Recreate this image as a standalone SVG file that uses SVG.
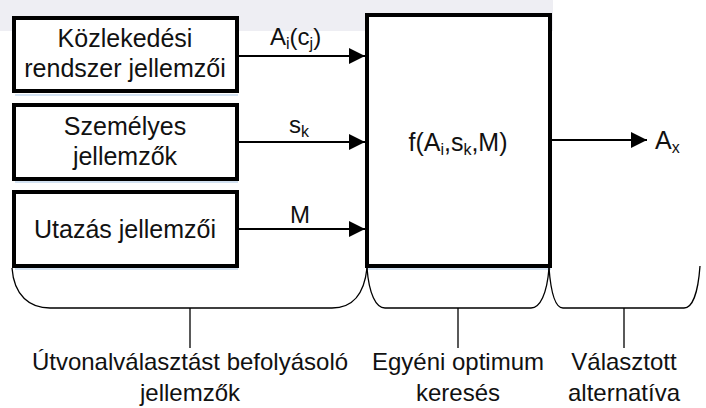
<svg xmlns="http://www.w3.org/2000/svg" width="706" height="408" viewBox="0 0 706 408">
  <defs>
    <marker id="arr" viewBox="0 0 10 10" refX="10" refY="5" markerWidth="17" markerHeight="16" markerUnits="userSpaceOnUse" orient="auto">
      <path d="M0,0 L10,5 L0,10 Z" fill="#000"/>
    </marker>
  </defs>
  <style>
    .box { fill: #fff; stroke: #000; stroke-width: 4; }
    .shadow { fill: none; stroke: #d3e2f2; stroke-width: 2; }
    .t { font-family: "Liberation Sans", Arial, sans-serif; font-size: 25px; fill: #111; text-anchor: middle; }
    .cap { font-size: 24px; }
    .lbl { font-family: "Liberation Sans", Arial, sans-serif; font-size: 24px; fill: #111; }
    .sub { font-size: 16px; }
    .con { stroke: #000; stroke-width: 2; fill: none; }
    .brace { stroke: #000; stroke-width: 1.3; fill: none; }
  </style>
  <rect x="0" y="0" width="553" height="31" fill="#eeeef3"/>

  <g id="n1">
    <path class="shadow" d="M15,95 H238"/>
    <rect class="box" x="14" y="18" width="223" height="73"/>
    <text class="t" x="125" y="47">Közlekedési</text>
    <text class="t" x="125" y="77">rendszer jellemzői</text>
  </g>
  <g id="n2">
    <path class="shadow" d="M15,182 H238"/>
    <rect class="box" x="14" y="105" width="223" height="74"/>
    <text class="t" x="125" y="135">Személyes</text>
    <text class="t" x="125" y="165">jellemzők</text>
  </g>
  <g id="n3">
    <path class="shadow" d="M15,269 H238"/>
    <rect class="box" x="14" y="192" width="223" height="74"/>
    <text class="t" x="125" y="238">Utazás jellemzői</text>
  </g>
  <g id="n4">
    <path class="shadow" d="M369,19.5 H548"/>
    <path class="shadow" d="M368,269 H551"/>
    <rect class="box" x="367" y="15" width="183" height="251"/>
    <text class="t" x="458" y="151">f(A<tspan class="sub" dy="4">i</tspan><tspan dy="-4">,s</tspan><tspan class="sub" dy="4">k</tspan><tspan dy="-4">,M)</tspan></text>
  </g>

  <g id="connectors">
    <line class="con" x1="237" y1="56" x2="365" y2="56" marker-end="url(#arr)"/>
    <line class="con" x1="237" y1="142" x2="365" y2="142" marker-end="url(#arr)"/>
    <line class="con" x1="237" y1="229" x2="365" y2="229" marker-end="url(#arr)"/>
    <line class="con" x1="550" y1="140" x2="647" y2="140" marker-end="url(#arr)"/>
    <text class="lbl" x="270" y="45">A<tspan class="sub" dy="4">i</tspan><tspan dy="-4">(c</tspan><tspan class="sub" dy="4">j</tspan><tspan dy="-4">)</tspan></text>
    <text class="lbl" x="289" y="133">s<tspan class="sub" dy="4">k</tspan></text>
    <text class="lbl" x="290" y="223">M</text>
    <text class="t" x="655" y="149" style="text-anchor:start">A<tspan class="sub" dy="4">x</tspan></text>
  </g>

  <g id="braces">
    <path class="brace" d="M12,268 C14,296 30,308 50,308 L332,308 C352,308 364,296 367,268"/>
    <path class="brace" d="M190,308 V348"/>
    <path class="brace" d="M367,268 C369,294 376,308 385,308 L531,308 C540,308 547,294 549,268"/>
    <path class="brace" d="M458,308 V348"/>
    <path class="brace" d="M549,268 C551,294 556,308 563,308 L684,308 C692,308 698,294 700,266"/>
    <path class="brace" d="M624,308 V348"/>
  </g>

  <g id="captions">
    <text class="t cap" x="190" y="370">Útvonalválasztást befolyásoló</text>
    <text class="t cap" x="190" y="401">jellemzők</text>
    <text class="t cap" x="458" y="370">Egyéni optimum</text>
    <text class="t cap" x="458" y="401">keresés</text>
    <text class="t cap" x="624" y="370">Választott</text>
    <text class="t cap" x="624" y="401">alternatíva</text>
  </g>
</svg>
